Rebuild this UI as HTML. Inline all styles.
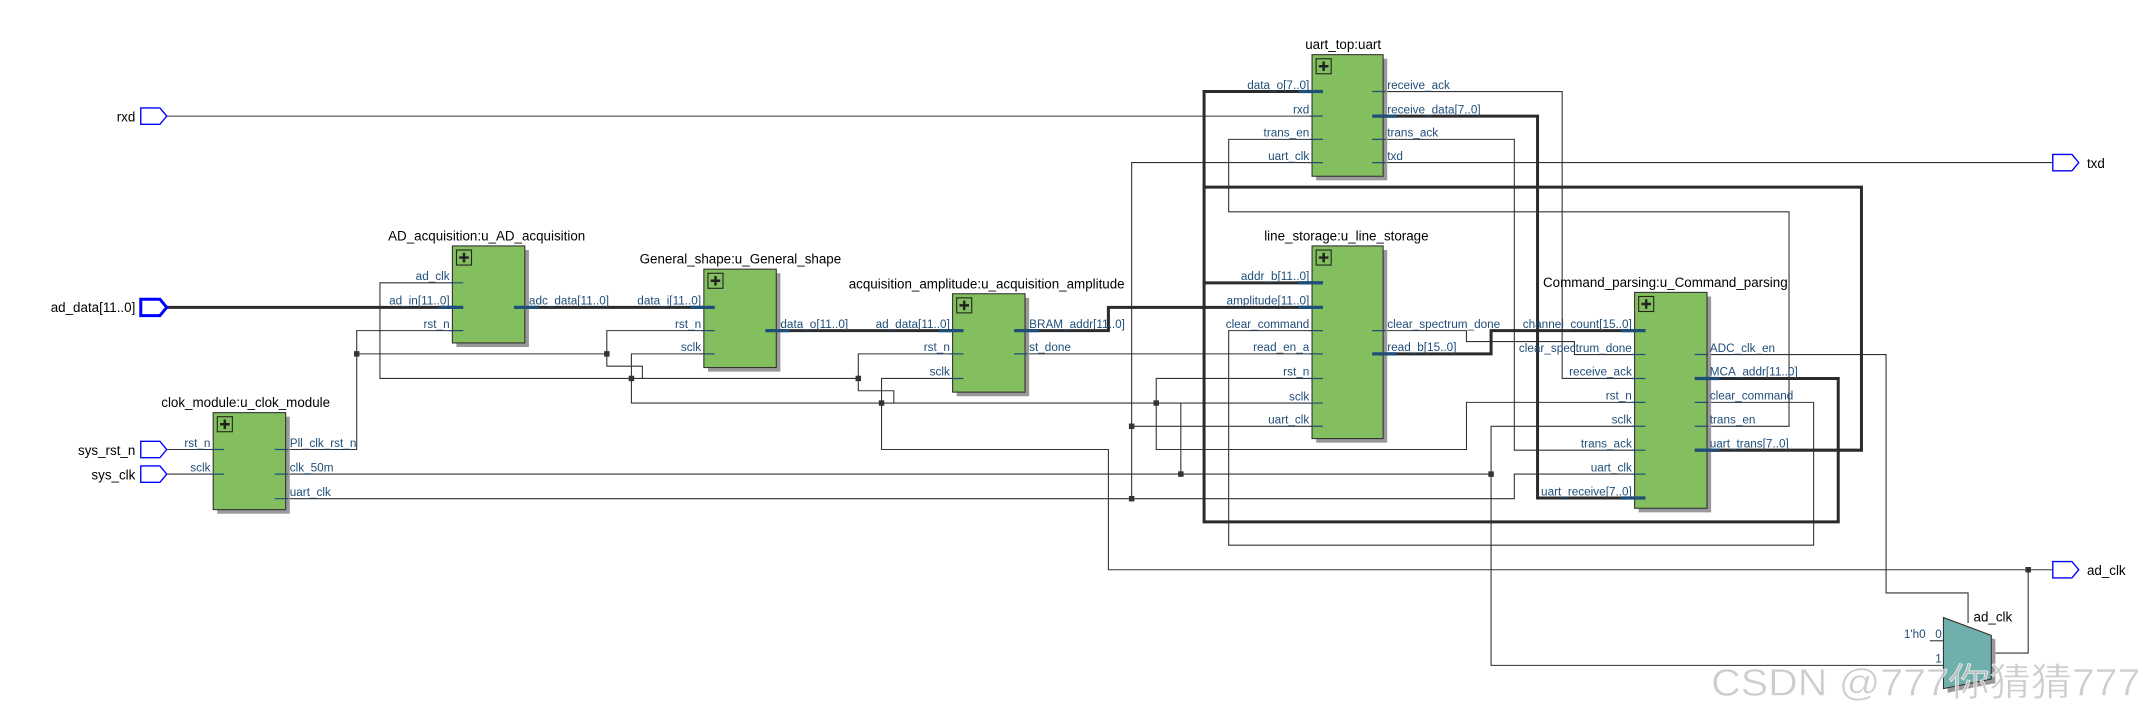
<!DOCTYPE html>
<html><head><meta charset="utf-8"><style>
html,body{margin:0;padding:0;background:#fff;width:2143px;height:705px;overflow:hidden}
svg{display:block}
text{font-family:"Liberation Sans","Noto Sans CJK SC",sans-serif}
.w{fill:none;stroke:#333;stroke-width:0.8}
.t{fill:none;stroke:#2b2b2b;stroke-width:2.2}
.pl{fill:#1f4e79;font-size:8.6px}
.ti{fill:#000;font-size:9.8px}
.ps{stroke:#1f4e79;stroke-width:0.9}
.pt{stroke:#1f4e79;stroke-width:2.4}
</style></head><body>
<svg width="2143" height="705" viewBox="0 0 1568 516" preserveAspectRatio="none" xmlns="http://www.w3.org/2000/svg">
<rect width="1568" height="516" fill="#fff"/>
<g class="w">
<polyline points="122,85 960,85"/>
<polyline points="122,329 156,329"/>
<polyline points="122,347 156,347"/>
<polyline points="209,329 261,329 261,242 331,242"/>
<polyline points="331,207 278,207 278,277 628,277"/>
<polyline points="261,259 444,259"/>
<polyline points="515,242 444,242 444,268 470,268 470,277"/>
<polyline points="515,259 462,259 462,295 960,295"/>
<polyline points="697,259 628,259 628,286 654,286 654,295"/>
<polyline points="697,277 645,277 645,329 811,329 811,417 1502,417"/>
<polyline points="750,259 960,259"/>
<polyline points="960,277 846,277 846,329 1073,329 1073,294.5 1196,294.5"/>
<polyline points="960,242 899,242 899,399 1327,399 1327,294.5 1248,294.5"/>
<polyline points="960,102 899,102 899,155 1309,155 1309,312 1248,312"/>
<polyline points="960,119 828,119 828,365"/>
<polyline points="960,312 828,312"/>
<polyline points="864,295 864,347"/>
<polyline points="209,347 1091,347"/>
<polyline points="209,365 1108,365 1108,347 1196,347"/>
<polyline points="1196,312 1091,312 1091,487 1422,487"/>
<polyline points="1012,67 1143,67 1143,277 1196,277"/>
<polyline points="1012,102 1108,102 1108,329.5 1196,329.5"/>
<polyline points="1012,119 1502,119"/>
<polyline points="1012,242 1073,242 1073,250 1152,250 1152,259.5 1196,259.5"/>
<polyline points="1248,259.5 1380,259.5 1380,434 1440,434 1440,456"/>
<polyline points="1457,478 1484,478 1484,417"/>
<polyline points="1412,469 1422,469"/>
</g>
<g class="t">
<polyline points="122,225 331,225"/>
<polyline points="384,225 515,225"/>
<polyline points="568,242 697,242"/>
<polyline points="750,242 811,242 811,225 960,225"/>
<polyline points="960,67 881,67 881,382 1345,382 1345,277 1248,277"/>
<polyline points="881,207 960,207"/>
<polyline points="881,137 1362,137 1362,329.5 1248,329.5"/>
<polyline points="1012,85 1125,85 1125,364.5 1196,364.5"/>
<polyline points="1012,259 1091,259 1091,242 1196,242"/>
</g>
<g fill="#333">
<rect x="259" y="257" width="4" height="4"/><rect x="442" y="257" width="4" height="4"/>
<rect x="460" y="275" width="4" height="4"/><rect x="626" y="275" width="4" height="4"/>
<rect x="643" y="293" width="4" height="4"/><rect x="844" y="293" width="4" height="4"/>
<rect x="826" y="310" width="4" height="4"/><rect x="826" y="363" width="4" height="4"/>
<rect x="862" y="345" width="4" height="4"/><rect x="1089" y="345" width="4" height="4"/>
<rect x="1482" y="415" width="4" height="4"/>
</g>
<g fill="#fff" stroke="#0000ff" stroke-width="1">
<polygon points="103,79 117,79 122,85 117,91 103,91"/>
<polygon points="103,323 117,323 122,329 117,335 103,335"/>
<polygon points="103,341 117,341 122,347 117,353 103,353"/>
<polygon points="103,219 117,219 122,225 117,231 103,231" stroke-width="2.2"/>
<polygon points="1502,113 1516,113 1521,119 1516,125 1502,125"/>
<polygon points="1502,411 1516,411 1521,417 1516,423 1502,423"/>
</g>
<g class="ti">
<text x="99" y="89" text-anchor="end">rxd</text>
<text x="99" y="228.5" text-anchor="end">ad_data[11..0]</text>
<text x="99" y="333" text-anchor="end">sys_rst_n</text>
<text x="99" y="351" text-anchor="end">sys_clk</text>
<text x="1527" y="123">txd</text>
<text x="1527" y="421">ad_clk</text>
</g>
<g>
<rect x="159" y="305" width="53" height="71" fill="#999"/>
<rect x="156" y="302" width="53" height="71" fill="#84bf5f" stroke="#333" stroke-width="0.8"/>
<text class="ti" x="118" y="298">clok_module:u_clok_module</text>
<rect x="334" y="183" width="53" height="71" fill="#999"/>
<rect x="331" y="180" width="53" height="71" fill="#84bf5f" stroke="#333" stroke-width="0.8"/>
<text class="ti" x="284" y="176">AD_acquisition:u_AD_acquisition</text>
<rect x="518" y="200" width="53" height="72" fill="#999"/>
<rect x="515" y="197" width="53" height="72" fill="#84bf5f" stroke="#333" stroke-width="0.8"/>
<text class="ti" x="468" y="193">General_shape:u_General_shape</text>
<rect x="700" y="218" width="53" height="72" fill="#999"/>
<rect x="697" y="215" width="53" height="72" fill="#84bf5f" stroke="#333" stroke-width="0.8"/>
<text class="ti" x="621" y="211">acquisition_amplitude:u_acquisition_amplitude</text>
<rect x="963" y="43" width="52" height="89" fill="#999"/>
<rect x="960" y="40" width="52" height="89" fill="#84bf5f" stroke="#333" stroke-width="0.8"/>
<text class="ti" x="955" y="36">uart_top:uart</text>
<rect x="963" y="183" width="52" height="141" fill="#999"/>
<rect x="960" y="180" width="52" height="141" fill="#84bf5f" stroke="#333" stroke-width="0.8"/>
<text class="ti" x="925" y="176">line_storage:u_line_storage</text>
<rect x="1199" y="217" width="53" height="158" fill="#999"/>
<rect x="1196" y="214" width="53" height="158" fill="#84bf5f" stroke="#333" stroke-width="0.8"/>
<text class="ti" x="1129" y="210">Command_parsing:u_Command_parsing</text>
</g>
<g fill="none" stroke="#222">
<g transform="translate(159,305)"><rect width="11" height="11" stroke-width="0.8"/><path d="M5.5 2V9M2 5.5H9" stroke-width="1.8"/></g>
<g transform="translate(334,183)"><rect width="11" height="11" stroke-width="0.8"/><path d="M5.5 2V9M2 5.5H9" stroke-width="1.8"/></g>
<g transform="translate(518,200)"><rect width="11" height="11" stroke-width="0.8"/><path d="M5.5 2V9M2 5.5H9" stroke-width="1.8"/></g>
<g transform="translate(700,218)"><rect width="11" height="11" stroke-width="0.8"/><path d="M5.5 2V9M2 5.5H9" stroke-width="1.8"/></g>
<g transform="translate(963,43)"><rect width="11" height="11" stroke-width="0.8"/><path d="M5.5 2V9M2 5.5H9" stroke-width="1.8"/></g>
<g transform="translate(963,183)"><rect width="11" height="11" stroke-width="0.8"/><path d="M5.5 2V9M2 5.5H9" stroke-width="1.8"/></g>
<g transform="translate(1199,217)"><rect width="11" height="11" stroke-width="0.8"/><path d="M5.5 2V9M2 5.5H9" stroke-width="1.8"/></g>
</g>
<g>
<path class="ps" d="M154 329H164M154 347H164
M329 207H339M329 242H339
M513 242H523M513 259H523
M695 259H705M695 277H705
M958 85H968M958 102H968M958 119H968
M958 242H968M958 259H968M958 277H968M958 295H968M958 312H968
M1194 259.5H1204M1194 277H1204M1194 294.5H1204M1194 312H1204M1194 329.5H1204M1194 347H1204
M201 329H211M201 347H211M201 365H211
M1004 67H1014M1004 102H1014M1004 119H1014M1004 242H1014
M1240 259.5H1250M1240 294.5H1250M1240 312H1250
M742 259H752"/>
<path class="pt" d="M321 225H339M505 225H523M687 242H705M950 67H968M950 207H968M950 225H968
M1186 242H1204M1186 364.5H1204
M376 225H394M560 242H578M742 242H760M1004 85H1022M1004 259H1022M1240 277H1258M1240 329.5H1258"/>
</g>
<g class="pl">
<g text-anchor="end">
<text x="154" y="327">rst_n</text><text x="154" y="345">sclk</text>
<text x="329" y="205">ad_clk</text><text x="329" y="223">ad_in[11..0]</text><text x="329" y="240">rst_n</text>
<text x="513" y="223">data_i[11..0]</text><text x="513" y="240">rst_n</text><text x="513" y="257">sclk</text>
<text x="695" y="240">ad_data[11..0]</text><text x="695" y="257">rst_n</text><text x="695" y="275">sclk</text>
<text x="958" y="65">data_o[7..0]</text><text x="958" y="83">rxd</text><text x="958" y="100">trans_en</text><text x="958" y="117">uart_clk</text>
<text x="958" y="205">addr_b[11..0]</text><text x="958" y="223">amplitude[11..0]</text><text x="958" y="240">clear_command</text><text x="958" y="257">read_en_a</text><text x="958" y="275">rst_n</text><text x="958" y="293">sclk</text><text x="958" y="310">uart_clk</text>
<text x="1194" y="240">channel_count[15..0]</text><text x="1194" y="257.5">clear_spectrum_done</text><text x="1194" y="275">receive_ack</text><text x="1194" y="292.5">rst_n</text><text x="1194" y="310">sclk</text><text x="1194" y="327.5">trans_ack</text><text x="1194" y="345">uart_clk</text><text x="1194" y="362.5">uart_receive[7..0]</text>
</g>
<text x="212" y="327">Pll_clk_rst_n</text><text x="212" y="345">clk_50m</text><text x="212" y="363">uart_clk</text>
<text x="387" y="223">adc_data[11..0]</text>
<text x="571" y="240">data_o[11..0]</text>
<text x="753" y="240">BRAM_addr[11..0]</text><text x="753" y="257">st_done</text>
<text x="1015" y="65">receive_ack</text><text x="1015" y="83">receive_data[7..0]</text><text x="1015" y="100">trans_ack</text><text x="1015" y="117">txd</text>
<text x="1015" y="240">clear_spectrum_done</text><text x="1015" y="257">read_b[15..0]</text>
<text x="1251" y="257.5">ADC_clk_en</text><text x="1251" y="275">MCA_addr[11..0]</text><text x="1251" y="292.5">clear_command</text><text x="1251" y="310">trans_en</text><text x="1251" y="327.5">uart_trans[7..0]</text>
<text x="1393" y="467">1'h0</text><text x="1416" y="467">0</text><text x="1416" y="485">1</text>
</g>
<polygon points="1425,455 1460,468 1460,500 1425,507" fill="#999"/>
<polygon points="1422,452 1457,465 1457,497 1422,504" fill="#6fb0ac" stroke="#333" stroke-width="0.8"/>
<text class="ti" x="1444" y="455">ad_clk</text>
<text x="1252" y="509" font-size="28" textLength="314" lengthAdjust="spacingAndGlyphs" fill="#c4c4c4" fill-opacity="0.85" stroke="#fff" stroke-width="0.4">CSDN @777你猜猜777</text>
</svg>
</body></html>
